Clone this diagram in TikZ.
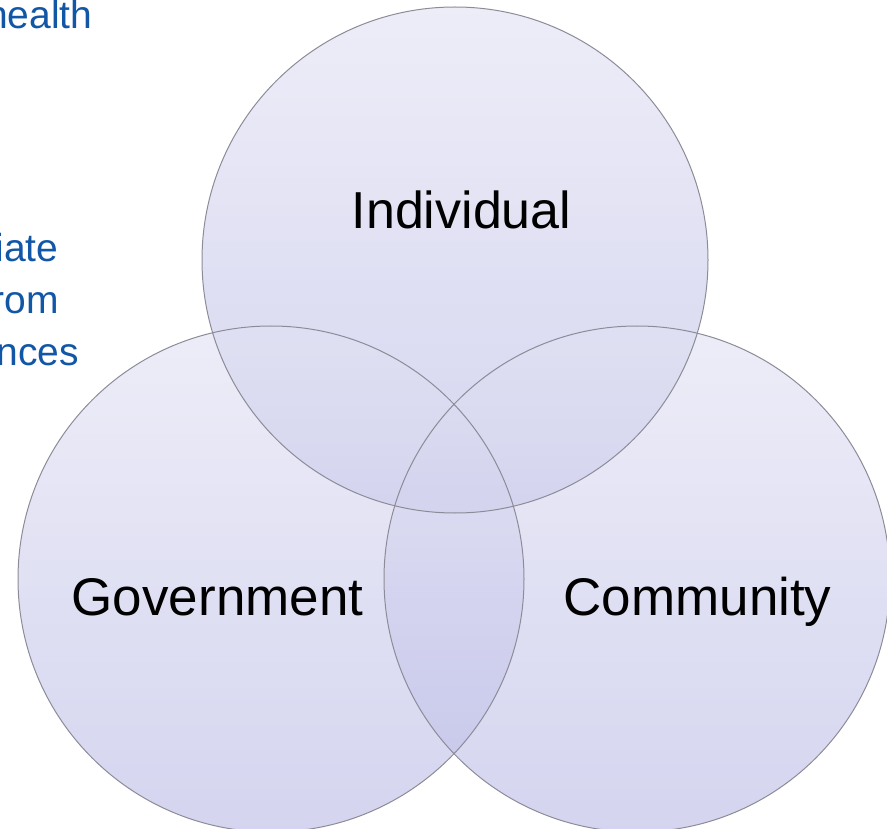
\documentclass[tikz,border=0pt]{standalone}
\usepackage{fontspec}
\setmainfont{Liberation Sans}
\definecolor{ventop}{RGB}{226,226,244}
\definecolor{venbot}{RGB}{186,186,230}
\definecolor{venline}{RGB}{140,140,152}
\definecolor{noteblue}{RGB}{18,86,166}
\begin{document}
\begin{tikzpicture}[x=1pt,y=-1pt,
  vennset/.style={circle, minimum size=506pt, inner sep=0pt,
    top color=ventop, bottom color=venbot, fill opacity=0.62},
  vennrim/.style={draw=venline, line width=1pt},
  setlabel/.style={anchor=base, inner sep=0pt, text=black,
    font=\fontsize{53}{60}\selectfont},
  note/.style={anchor=base east, inner sep=0pt, text=noteblue,
    font=\fontsize{39}{46}\selectfont}]
  \useasboundingbox (0,0) rectangle (887,829);
  \clip (0,0) rectangle (887,829);

  % side notes running in from the left
  \node[note] (n1) at (92.5,29) {health};
  \node[note] (n2) at (58.5,262) {iate};
  \node[note] (n3) at (59,314) {rom};
  \node[note] (n4) at (79,365) {nces};

  % the three overlapping sets
  \node[vennset] (ind) at (455,260) {};
  \node[vennset] (gov) at (271,579) {};
  \node[vennset] (com) at (637,579) {};
  \draw[vennrim] (ind.center) circle[radius=253pt];
  \draw[vennrim] (gov.center) circle[radius=253pt];
  \draw[vennrim] (com.center) circle[radius=253pt];

  % set names
  \node[setlabel, font=\fontsize{52}{60}\selectfont] (lind) at (461.5,229) {Individual};
  \node[setlabel] (lgov) at (217.5,615) {Government};
  \node[setlabel] (lcom) at (697.5,615) {Community};
\end{tikzpicture}
\end{document}
